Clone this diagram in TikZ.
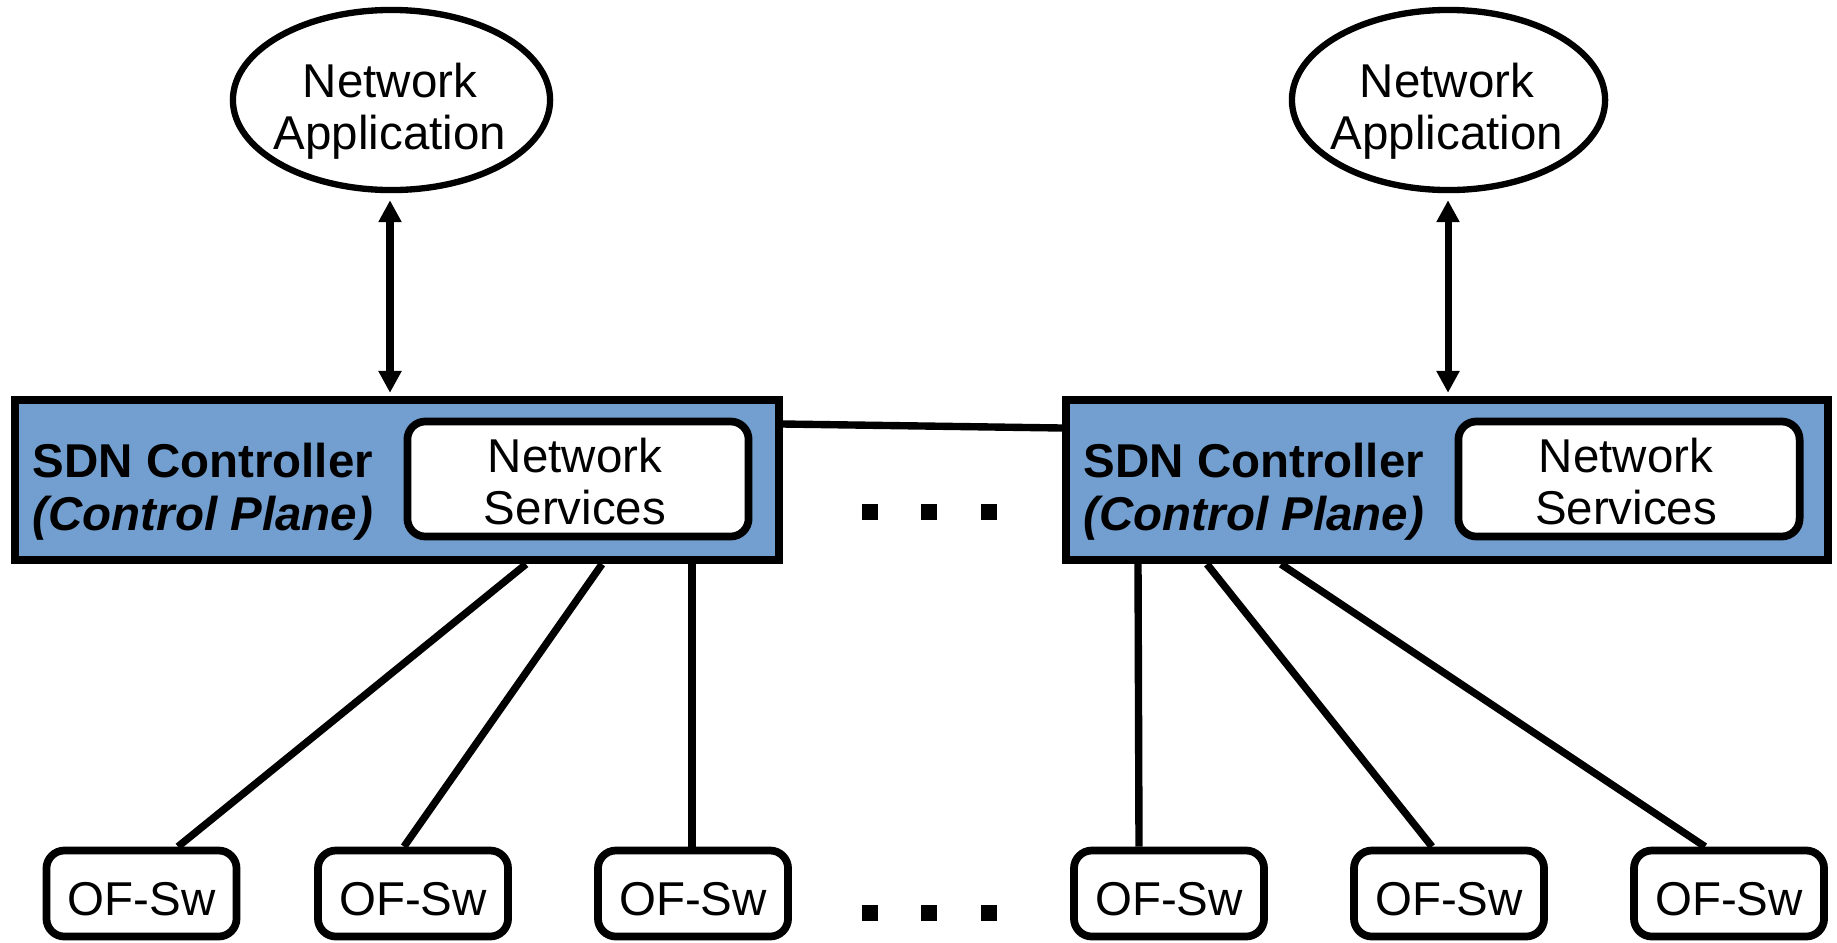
\documentclass[tikz,border=0pt]{standalone}
\usepackage{fontspec}
\setmainfont{Liberation Sans}
\usetikzlibrary{arrows.meta,shapes.geometric}
\definecolor{ctrlblue}{HTML}{729FCF}
\begin{document}
\begin{tikzpicture}[x=0.01cm,y=-0.01cm,
  every node/.style={inner sep=0pt, font=\fontsize{13.5}{16}\selectfont},
  app/.style={ellipse, draw, line width=1.8pt, minimum height=1.8cm},
  apptext/.style={anchor=north, align=center, font=\fontsize{13.5}{14.8}\selectfont},
  ctrl/.style={rectangle, draw, line width=2.2pt, fill=ctrlblue,
    minimum width=7.63cm, minimum height=1.605cm},
  svc/.style={rectangle, rounded corners=0.18cm, draw, line width=2.2pt, fill=white,
    minimum width=3.41cm, minimum height=1.15cm},
  svctext/.style={anchor=north, align=center, font=\fontsize{13.5}{15}\selectfont},
  ctrltext/.style={anchor=north west, align=left, font=\bfseries\fontsize{13.5}{15.2}\selectfont},
  sw/.style={rectangle, rounded corners=0.18cm, draw, line width=2.2pt, fill=white,
    minimum width=1.9cm, minimum height=0.86cm, text height=0.43cm, text depth=0pt},
  link/.style={line width=2.1pt},
  biarrow/.style={line width=2pt,
    {Triangle[width=0.22cm,length=0.22cm]}-{Triangle[width=0.22cm,length=0.22cm]}},
  dotmark/.style={rectangle, fill=black, minimum size=0.16cm}
]
\useasboundingbox (0,0) rectangle (1837,942);

% network applications
\node[app, minimum width=3.17cm] (appL) at (391.5,100) {};
\node[app, minimum width=3.13cm] (appR) at (1448.5,100) {};
\node[apptext] (appLt) at (390,62) {Network\\Application};
\node[apptext] (appRt) at (1447,62) {Network\\Application};

% controllers
\node[ctrl] (ctrlL) at (397,480) {};
\node[ctrl, minimum width=7.615cm] (ctrlR) at (1447,480) {};
\node[ctrltext] (lblL) at (32,442) {SDN Controller\\\textit{(Control Plane)}};
\node[ctrltext] (lblR) at (1083,442) {SDN Controller\\\textit{(Control Plane)}};

% network services
\node[svc] (svcL) at (578,479) {};
\node[svc] (svcR) at (1629,479) {};
\node[svctext] (svcLt) at (575,437) {Network\\Services};
\node[svctext] (svcRt) at (1626,437) {Network\\Services};

% OpenFlow switches
\node[sw] (sw1) at (141.5,893.5) {OF-Sw};
\node[sw] (sw2) at (413,893.5) {OF-Sw};
\node[sw] (sw3) at (693,893.5) {OF-Sw};
\node[sw] (sw4) at (1169,893.5) {OF-Sw};
\node[sw] (sw5) at (1449,893.5) {OF-Sw};
\node[sw] (sw6) at (1729,893.5) {OF-Sw};

% ellipsis marks
\node[dotmark] (da1) at (870,512) {};
\node[dotmark] (da2) at (929,512) {};
\node[dotmark] (da3) at (989,512) {};
\node[dotmark] (db1) at (870,913) {};
\node[dotmark] (db2) at (929,913) {};
\node[dotmark] (db3) at (989,913) {};

% application <-> controller
\draw[biarrow, shorten <=0.07cm, shorten >=0.03cm] (appL.south -| 390,0) -- (ctrlL.north -| 390,0);
\draw[biarrow, shorten <=0.07cm, shorten >=0.03cm] (appR.south -| 1448,0) -- (ctrlR.north -| 1448,0);

% controller <-> controller
\draw[link] (ctrlL.east |- 0,424) -- (ctrlR.west |- 0,428);

% controller -> switches
\draw[link] (ctrlL.south -| 526,0) -- (sw1.north -| 178,0);
\draw[link] (ctrlL.south -| 602,0) -- (sw2.north -| 404,0);
\draw[link] (ctrlL.south -| 692,0) -- (sw3.north -| 692,0);
\draw[link] (ctrlR.south -| 1138,0) -- (sw4.north -| 1139,0);
\draw[link] (ctrlR.south -| 1207,0) -- (sw5.north -| 1432,0);
\draw[link] (ctrlR.south -| 1281,0) -- (sw6.north -| 1705,0);
\end{tikzpicture}
\end{document}
